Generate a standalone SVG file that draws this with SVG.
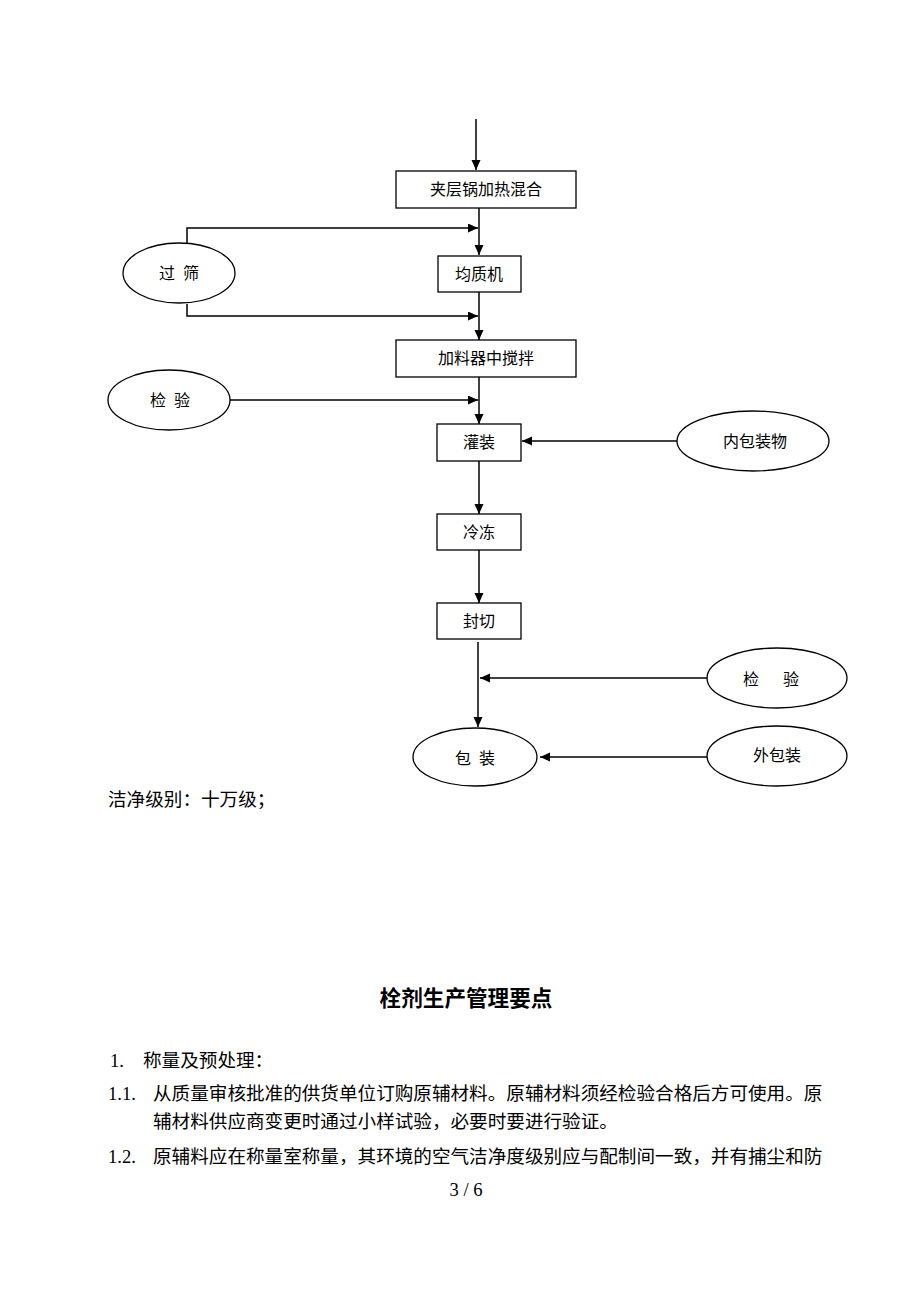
<svg xmlns="http://www.w3.org/2000/svg" width="920" height="1302" viewBox="0 0 920 1302">
<style>
.box{fill:#fff;stroke:#000;stroke-width:1.3}
.el{fill:#fff;stroke:#000;stroke-width:1.3}
.lbl{font-family:"Liberation Serif","Noto Sans CJK SC",serif;font-size:16px;fill:#000;text-anchor:middle}
.con{fill:none;stroke:#000;stroke-width:1.5}
.body{font-family:"Liberation Serif","Noto Sans CJK SC",serif;font-size:18.6px;fill:#000}
.title{font-family:"Noto Sans CJK SC",sans-serif;font-size:21.6px;font-weight:bold;fill:#000;text-anchor:middle}
</style>
<defs>
<marker id="arr" markerUnits="userSpaceOnUse" markerWidth="11" markerHeight="10" refX="10" refY="4.5" orient="auto">
<path d="M0,0 L10,4.5 L0,9 z" fill="#000"/>
</marker>
</defs>
<rect width="920" height="1302" fill="#fff"/>
<g id="connectors">
<path class="con" d="M476 119 V170" marker-end="url(#arr)"/>
<path class="con" d="M479 208 V255" marker-end="url(#arr)"/>
<path class="con" d="M187 243 V228 H478" marker-end="url(#arr)"/>
<path class="con" d="M187 304 V316 H478" marker-end="url(#arr)"/>
<path class="con" d="M479 292 V340" marker-end="url(#arr)"/>
<path class="con" d="M230 400 H478" marker-end="url(#arr)"/>
<path class="con" d="M479 377 V424" marker-end="url(#arr)"/>
<path class="con" d="M677 441 H522" marker-end="url(#arr)"/>
<path class="con" d="M479 461 V514" marker-end="url(#arr)"/>
<path class="con" d="M479 550 V603" marker-end="url(#arr)"/>
<path class="con" d="M478 642 V727" marker-end="url(#arr)"/>
<path class="con" d="M707 678 H480" marker-end="url(#arr)"/>
<path class="con" d="M707 757 H540" marker-end="url(#arr)"/>
</g>
<g id="n-mix"><rect class="box" x="396" y="171" width="180" height="37"/><text class="lbl" x="486" y="195">夹层锅加热混合</text></g>
<g id="n-sieve"><ellipse class="el" cx="179" cy="273" rx="56" ry="30"/><text class="lbl" y="279"><tspan x="167">过</tspan><tspan x="191">筛</tspan></text></g>
<g id="n-homo"><rect class="box" x="438" y="256" width="83" height="36"/><text class="lbl" x="479" y="280">均质机</text></g>
<g id="n-stir"><rect class="box" x="396" y="340" width="180" height="37"/><text class="lbl" x="486" y="364">加料器中搅拌</text></g>
<g id="n-check1"><ellipse class="el" cx="169" cy="400" rx="61" ry="30"/><text class="lbl" y="406"><tspan x="158">检</tspan><tspan x="182">验</tspan></text></g>
<g id="n-fill"><rect class="box" x="437" y="424" width="84" height="37"/><text class="lbl" x="479" y="448">灌装</text></g>
<g id="n-inner"><ellipse class="el" cx="753" cy="441" rx="76" ry="30"/><text class="lbl" x="755" y="447">内包装物</text></g>
<g id="n-freeze"><rect class="box" x="437" y="514" width="84" height="36"/><text class="lbl" x="479" y="538">冷冻</text></g>
<g id="n-seal"><rect class="box" x="437" y="603" width="84" height="36"/><text class="lbl" x="479" y="627">封切</text></g>
<g id="n-check2"><ellipse class="el" cx="777" cy="678" rx="70" ry="30"/><text class="lbl" y="685"><tspan x="751">检</tspan><tspan x="791">验</tspan></text></g>
<g id="n-pack"><ellipse class="el" cx="475" cy="757" rx="62" ry="29"/><text class="lbl" y="764"><tspan x="463">包</tspan><tspan x="487">装</tspan></text></g>
<g id="n-outer"><ellipse class="el" cx="777" cy="756" rx="70" ry="30"/><text class="lbl" x="777" y="761">外包装</text></g>
<g id="text">
<text class="body" x="108" y="806">洁净级别：十万级；</text>
<text class="title" x="466" y="1006">栓剂生产管理要点</text>
<text class="body" y="1067"><tspan x="110">1.</tspan><tspan x="143">称量及预处理：</tspan></text>
<text class="body" y="1100"><tspan x="108">1.1.</tspan><tspan x="153">从质量审核批准的供货单位订购原辅材料。原辅材料须经检验合格后方可使用。原</tspan></text>
<text class="body" x="153" y="1128">辅材料供应商变更时通过小样试验，必要时要进行验证。</text>
<text class="body" y="1163"><tspan x="108">1.2.</tspan><tspan x="153">原辅料应在称量室称量，其环境的空气洁净度级别应与配制间一致，并有捕尘和防</tspan></text>
<text class="body" x="466" y="1196" text-anchor="middle" xml:space="preserve">3 / 6</text>
</g>
</svg>
